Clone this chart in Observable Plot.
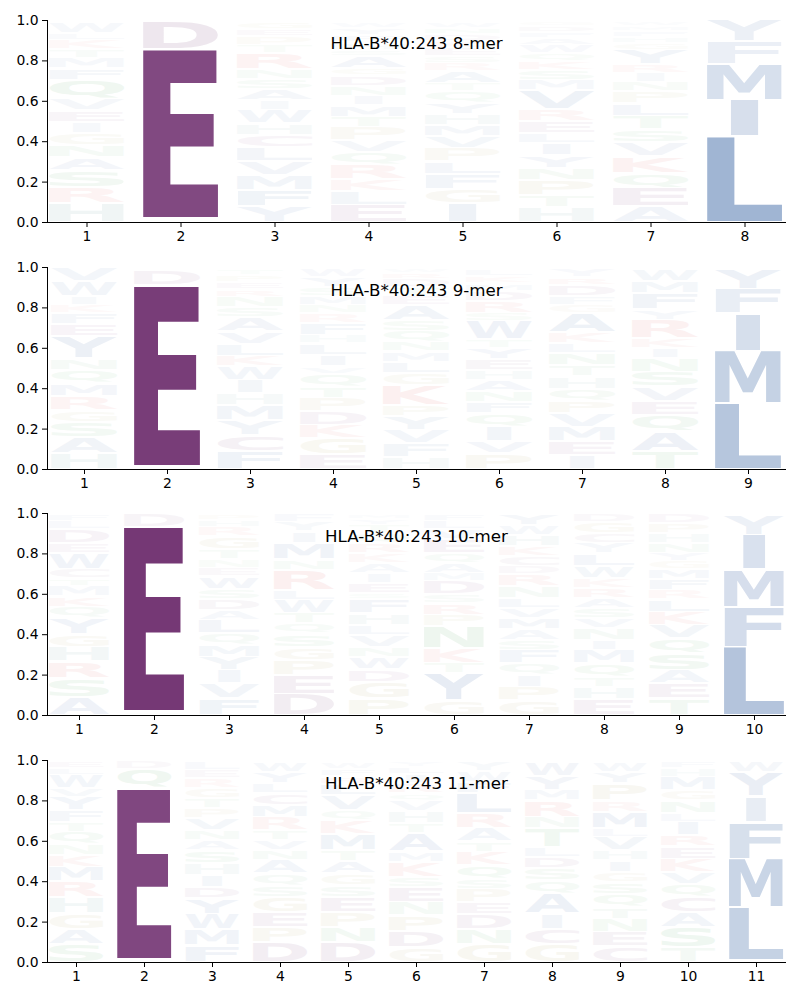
<!DOCTYPE html>
<html><head><meta charset="utf-8">
<script src="https://cdn.jsdelivr.net/npm/d3@7"></script>
<script src="https://cdn.jsdelivr.net/npm/@observablehq/plot@0.6"></script>
<style>
body{margin:0;background:#fff;}
#chart{position:relative;width:800px;height:1000px;}
.panel{position:absolute;left:0;}
</style></head><body><div id="chart"></div>
<script>
const allele = "HLA-B*40:243";
const peptideLengths = [8, 9, 10, 11];

// Each column: residues stacked bottom to top, [letter, height]
const logo8 = [
  [["H",.095],["R",.077],["S",.085],["A",.063],["N",.063],["G",.060],["I",.052],["E",.057],["V",.058],["Q",.095],["F",.055],["M",.052],["T",.044],["K",.047],["L",.034],["W",.053]],
  [["Q",.018],["E",.837],["D",.138]],
  [["Y",.078],["F",.082],["M",.072],["V",.070],["L",.070],["C",.061],["H",.057],["W",.066],["I",.046],["A",.056],["S",.050],["N",.049],["R",.079],["T",.041],["P",.043],["E",.035],["G",.035]],
  [["E",.085],["L",.067],["K",.060],["R",.073],["Q",.062],["V",.058],["P",.065],["T",.052],["M",.055],["I",.047],["N",.051],["D",.050],["G",.035],["A",.062],["S",.031],["H",.037],["F",.035],["Y",.035],["W",.030]],
  [["I",.093],["G",.072],["F",.074],["L",.063],["P",.065],["V",.060],["M",.055],["H",.055],["Y",.055],["Q",.055],["T",.041],["A",.059],["R",.040],["S",.033],["E",.040],["K",.035],["D",.035],["N",.030],["W",.030]],
  [["H",.075],["T",.060],["P",.073],["N",.059],["Y",.063],["I",.062],["L",.048],["E",.058],["R",.059],["V",.095],["M",.052],["S",.048],["K",.044],["Q",.041],["W",.040],["A",.033],["F",.030],["D",.030],["G",.020]],
  [["A",.078],["E",.090],["Q",.074],["K",.083],["V",.070],["S",.065],["T",.067],["L",.061],["P",.059],["N",.045],["I",.045],["R",.043],["Y",.072],["G",.033],["H",.030],["F",.030],["M",.025],["W",.020]],
  [["L",.424],["I",.181],["M",.179],["F",.111],["Y",.104]]
];
const logo9 = [
  [["H",.080],["A",.080],["S",.073],["G",.059],["R",.070],["M",.063],["Q",.067],["N",.056],["Y",.109],["E",.061],["F",.055],["K",.040],["I",.044],["W",.073],["V",.065]],
  [["Q",.017],["E",.892],["D",.076]],
  [["F",.088],["C",.079],["Y",.075],["M",.075],["H",.058],["I",.067],["W",.066],["K",.053],["L",.059],["V",.062],["A",.070],["S",.048],["N",.052],["R",.038],["E",.035],["P",.035],["T",.030]],
  [["E",.072],["G",.080],["K",.066],["D",.070],["P",.065],["T",.054],["Q",.065],["V",.038],["I",.055],["L",.057],["H",.043],["F",.059],["R",.048],["N",.041],["M",.044],["S",.043],["Y",.050],["W",.040]],
  [["H",.060],["F",.067],["V",.066],["Y",.067],["P",.058],["K",.097],["G",.060],["L",.057],["M",.050],["N",.048],["Q",.055],["S",.053],["A",.074],["E",.045],["T",.043],["D",.040],["R",.030],["W",.025]],
  [["P",.077],["V",.061],["I",.072],["Q",.066],["F",.057],["N",.055],["A",.054],["H",.050],["E",.054],["Y",.054],["T",.042],["W",.090],["S",.041],["R",.059],["D",.050],["M",.038],["K",.035],["L",.035]],
  [["I",.068],["E",.070],["M",.072],["V",.066],["P",.062],["Q",.060],["H",.060],["T",.056],["N",.061],["L",.050],["K",.054],["A",.094],["G",.040],["F",.044],["D",.055],["R",.038],["Y",.040]],
  [["T",.088],["A",.097],["Q",.083],["E",.070],["V",.070],["S",.074],["N",.067],["I",.049],["K",.051],["R",.091],["Y",.050],["F",.080],["M",.060],["W",.060]],
  [["L",.327],["M",.258],["I",.185],["F",.123],["Y",.102]]
];
const logo10 = [
  [["A",.090],["S",.092],["R",.083],["H",.073],["G",.065],["Y",.077],["Q",.057],["K",.050],["M",.053],["T",.038],["C",.047],["W",.077],["E",.050],["D",.068],["L",.040],["F",.035]],
  [["Q",.018],["E",.912],["D",.065]],
  [["F",.082],["V",.074],["I",.066],["Y",.067],["M",.059],["Q",.056],["L",.068],["A",.049],["D",.054],["S",.050],["W",.063],["E",.042],["N",.040],["T",.050],["G",.065],["R",.045],["H",.035],["P",.030]],
  [["D",.106],["E",.092],["P",.074],["G",.066],["S",.065],["Q",.050],["T",.052],["W",.066],["L",.050],["R",.099],["N",.050],["M",.083],["I",.057],["Y",.045],["F",.040]],
  [["P",.082],["G",.083],["D",.061],["W",.063],["N",.050],["V",.058],["L",.050],["H",.056],["F",.069],["S",.030],["E",.051],["I",.049],["A",.051],["K",.049],["R",.050],["Q",.048],["T",.040],["Y",.030],["M",.025]],
  [["G",.072],["Y",.134],["T",.053],["K",.071],["N",.108],["P",.059],["R",.056],["S",.044],["D",.066],["M",.039],["A",.051],["Q",.050],["E",.067],["V",.050],["L",.040],["F",.035]],
  [["G",.072],["P",.068],["I",.058],["Q",.058],["F",.066],["S",.050],["A",.053],["M",.055],["V",.050],["L",.050],["N",.058],["R",.059],["D",.041],["C",.048],["K",.050],["H",.056],["W",.048],["Y",.055]],
  [["E",.077],["H",.062],["T",.051],["Q",.066],["M",.066],["I",.050],["N",.058],["V",.050],["S",.050],["A",.050],["R",.050],["K",.049],["W",.059],["L",.062],["Y",.052],["C",.048],["G",.055],["D",.042]],
  [["T",.082],["E",.074],["A",.066],["S",.083],["Q",.075],["V",.067],["K",.065],["L",.060],["R",.045],["F",.055],["M",.048],["G",.043],["Y",.040],["N",.049],["H",.048],["P",.050],["D",.045]],
  [["L",.338],["F",.199],["M",.186],["I",.169],["Y",.100]]
];
const logo11 = [
  [["S",.090],["A",.074],["G",.079],["H",.080],["R",.078],["M",.071],["K",.058],["N",.053],["Q",.062],["T",.050],["F",.058],["Y",.066],["V",.043],["W",.065],["L",.033],["E",.035]],
  [["A",.017],["E",.843],["Q",.095],["D",.043]],
  [["F",.083],["M",.078],["W",.078],["Y",.076],["D",.056],["I",.059],["H",.058],["S",.065],["A",.050],["N",.050],["V",.059],["P",.050],["T",.050],["G",.050],["R",.048],["E",.040],["L",.040]],
  [["D",.098],["P",.074],["E",.075],["G",.075],["S",.058],["Q",.058],["A",.065],["N",.050],["V",.050],["T",.050],["R",.066],["M",.059],["C",.058],["L",.050],["Y",.054],["W",.050]],
  [["D",.098],["N",.074],["P",.075],["E",.075],["S",.058],["G",.058],["A",.064],["T",.052],["M",.082],["K",.066],["Q",.050],["V",.075],["L",.055],["R",.038],["F",.035],["W",.035]],
  [["G",.072],["D",.083],["P",.077],["N",.065],["E",.074],["S",.050],["K",.075],["M",.051],["A",.090],["T",.050],["H",.060],["V",.053],["Q",.035],["R",.051],["I",.044],["L",.035],["Y",.030]],
  [["G",.090],["N",.074],["D",.075],["E",.058],["P",.066],["S",.050],["Q",.067],["K",.067],["T",.050],["A",.065],["R",.074],["L",.100],["F",.057],["W",.052],["Y",.045]],
  [["G",.090],["C",.074],["I",.075],["A",.099],["Q",.065],["S",.060],["D",.057],["L",.050],["T",.092],["N",.058],["R",.080],["M",.052],["Y",.068],["W",.070]],
  [["C",.077],["E",.071],["N",.066],["T",.058],["Q",.066],["S",.059],["G",.050],["I",.056],["H",.051],["V",.067],["L",.041],["M",.083],["R",.055],["P",.084],["Y",.056],["W",.050]],
  [["T",.072],["S",.100],["A",.075],["C",.075],["Q",.066],["V",.059],["K",.065],["E",.060],["R",.057],["I",.066],["L",.042],["N",.063],["G",.052],["M",.066],["H",.042],["F",.035]],
  [["A",.012],["L",.260],["M",.240],["F",.180],["I",.128],["Y",.120],["W",.055]]
];
const logos = [logo8, logo9, logo10, logo11];

// residue colour groups
const groupColor = {acidic:"#682568", basic:"#d84040", hydrophobic:"#205098", polar:"#3a9a4a", special:"#9a8e3a", his:"#3a7e7e"};
const residueGroup = {D:"acidic",E:"acidic",C:"acidic",K:"basic",R:"basic",H:"his",
  A:"hydrophobic",V:"hydrophobic",L:"hydrophobic",I:"hydrophobic",M:"hydrophobic",F:"hydrophobic",W:"hydrophobic",Y:"hydrophobic",
  S:"polar",T:"polar",N:"polar",Q:"polar",G:"special",P:"special"};
// a residue's shade follows its frequency; rare residues fade out
const shade = h => h < 0.15 ? h * 0.8 : h;

const FONT = "DejaVu Sans";
const ctx = document.createElement("canvas").getContext("2d");
ctx.font = `bold 100px "${FONT}"`;
const inkCache = {};
function ink(ch) {
  if (!inkCache[ch]) {
    const m = ctx.measureText(ch);
    inkCache[ch] = {l: m.actualBoundingBoxLeft, r: m.actualBoundingBoxRight, a: m.actualBoundingBoxAscent, d: m.actualBoundingBoxDescent};
  }
  return inkCache[ch];
}
const widthRef = ink("E"); // narrow glyphs are not stretched wider than an E would be

const chart = document.getElementById("chart");
const panelH = 246.67;

logos.forEach((logo, k) => {
  const n = peptideLengths[k];
  const rows = [];
  logo.forEach((col, i) => col.forEach(([letter, h]) => {
    rows.push({pos: i + 1, letter, h, color: d3.interpolateRgb("#ffffff", groupColor[residueGroup[letter]])(Math.min(1, shade(h)))});
  }));
  const plot = Plot.plot({
    width: 800,
    height: 247,
    marginTop: 20,
    marginBottom: 25,
    marginLeft: 47,
    marginRight: 15,
    style: {fontFamily: FONT, fontSize: "13.9px", color: "black", background: "white", overflow: "visible"},
    x: {type: "band", domain: d3.range(1, n + 1), paddingInner: 0.2, paddingOuter: 0, align: 0.5, tickSize: 5, tickPadding: 4, label: null, line: true},
    y: {domain: [0, 1], ticks: 5, tickFormat: d3.format(".1f"), tickSize: 5, tickPadding: 4, label: null, line: true},
    color: {type: "identity"},
    marks: [
      Plot.barY(rows, {x: "pos", y: "h", fill: "color", title: "letter", insetTop: 1, insetBottom: 1}),
      Plot.text([`${allele} ${n}-mer`], {text: d => d, frameAnchor: "top", dy: 16.5, fontSize: 16.67, fill: "black"})
    ]
  });
  // replace each stacked bar by its residue glyph, stretched to the bar's box
  const svg = plot.tagName.toLowerCase() === "svg" ? plot : plot.querySelector("svg");
  const rects = Array.from(svg.querySelectorAll("rect")).filter(r => r.querySelector("title"));
  const maxStretchOf = w => w / (widthRef.l + widthRef.r);
  for (const r of rects) {
    const letter = r.querySelector("title").textContent;
    const x = +r.getAttribute("x"), y = +r.getAttribute("y");
    const w = +r.getAttribute("width"), h = +r.getAttribute("height");
    const fill = r.getAttribute("fill");
    if (h > 0.5 && letter) {
      const m = ink(letter);
      const inkW = m.l + m.r;
      const sx = Math.min(w / inkW, maxStretchOf(w));
      const gx = x + (w - inkW * sx) / 2;
      const sy = h / (m.a + m.d);
      const t = document.createElementNS("http://www.w3.org/2000/svg", "text");
      t.textContent = letter;
      t.setAttribute("font-family", FONT);
      t.setAttribute("font-weight", "bold");
      t.setAttribute("font-size", "100");
      t.setAttribute("text-anchor", "start");
      t.setAttribute("dominant-baseline", "alphabetic");
      t.setAttribute("fill", fill);
      t.setAttribute("stroke", "none");
      t.setAttribute("transform", `translate(${gx},${y}) scale(${sx},${sy}) translate(${m.l},${m.a})`);
      r.parentNode.insertBefore(t, r);
    }
    r.remove();
  }
  const div = document.createElement("div");
  div.className = "panel";
  div.style.top = Math.round(k * panelH) + "px";
  div.appendChild(plot);
  chart.appendChild(div);
});
</script>
</body></html>
